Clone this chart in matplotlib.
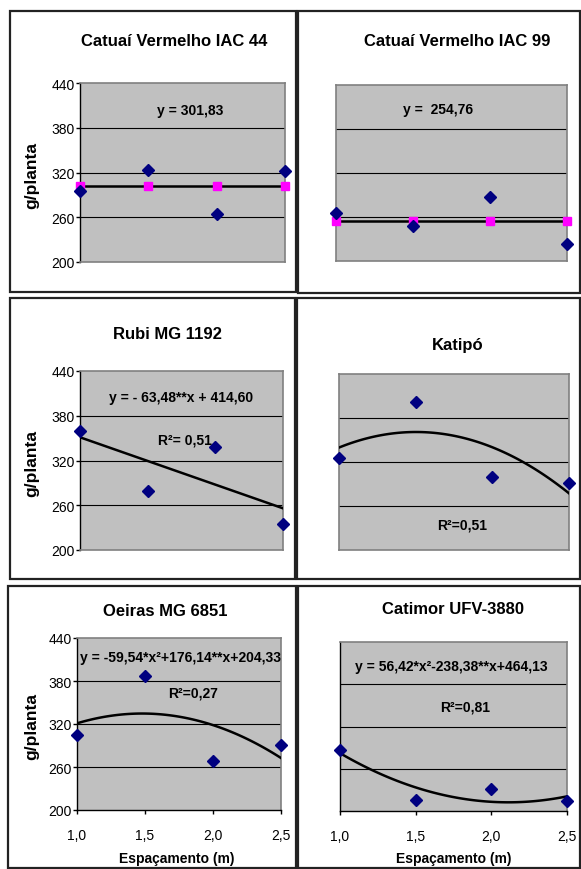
import numpy as np
import matplotlib
matplotlib.use('Agg')
import matplotlib.pyplot as plt
from matplotlib.patches import Rectangle

plt.rcParams['font.family'] = ['Liberation Sans', 'DejaVu Sans']

# spacing (m) and yield per plant for each cultivar
espacamento = [1.0, 1.5, 2.0, 2.5]
x_labels = ['1,0', '1,5', '2,0', '2,5']
y_ticks = [200, 260, 320, 380, 440]

titles = ['Catuaí Vermelho IAC 44', 'Catuaí Vermelho IAC 99', 'Rubi MG 1192',
          'Katipó', 'Oeiras MG 6851', 'Catimor UFV-3880']

y_iac44 = [295, 323, 265, 322]
y_iac99 = [265, 248, 287, 223]
y_rubi = [360, 279, 338, 235]
y_katipo = [326, 402, 299, 291]
y_oeiras = [305, 387, 268, 291]
y_catimor = [287, 216, 231, 214]

# regression coefficients (highest degree first); Katipó fitted from the points
coef_iac44 = [301.83]
coef_iac99 = [254.76]
coef_rubi = [-63.48, 414.60]
coef_katipo = None
coef_oeiras = [-59.54, 176.14, 204.33]
coef_catimor = [56.42, -238.38, 464.13]

eq_texts = ['y = 301,83', 'y =  254,76', 'y = - 63,48**x + 414,60', '',
            'y = -59,54*x²+176,14**x+204,33', 'y = 56,42*x²-238,38**x+464,13']
r2_texts = ['', '', 'R²= 0,51', 'R²=0,51', 'R²=0,27', 'R²=0,81']

W, H = 581, 870
fig = plt.figure(figsize=(W / 100, H / 100), dpi=100)


def fx(px):
    return px / W


def fy(py):
    return 1 - py / H


# panel frames (pixel boxes: x0, y0, x1, y1)
frames = [(10, 12, 296, 293), (298, 12, 580, 294),
          (10, 299, 295, 580), (297, 299, 580, 580),
          (8, 587, 296, 869), (298, 587, 580, 869)]
# plot areas
areas = [(80, 84, 285, 263), (336, 86, 567, 262),
         (80, 372, 283, 551), (339, 375, 569, 551),
         (77, 639, 281, 811), (340, 643, 567, 812)]
title_pos = [(174, 42), (457, 42), (167, 335), (458, 346), (165, 611), (453, 610)]
eq_pos = [(190, 111), (438, 110), (181, 398), None, (180, 658), (451, 667)]
r2_pos = [None, None, (185, 441), (462, 526), (193, 694), (465, 708)]

series = [y_iac44, y_iac99, y_rubi, y_katipo, y_oeiras, y_catimor]
coefs = [coef_iac44, coef_iac99, coef_rubi, coef_katipo, coef_oeiras, coef_catimor]

for (x0, y0, x1, y1) in frames:
    fig.patches.append(Rectangle((fx(x0), fy(y1)), fx(x1 - x0), (y1 - y0) / H,
                                 transform=fig.transFigure, fill=False,
                                 edgecolor='#222222', linewidth=1.6))

for i in range(6):
    x0, y0, x1, y1 = areas[i]
    ax = fig.add_axes([fx(x0), fy(y1), fx(x1 - x0), (y1 - y0) / H])
    ax.set_facecolor('#c0c0c0')
    ax.set_xlim(1.0, 2.5)
    ax.set_ylim(200, 440)
    for s in ax.spines.values():
        s.set_color('#808080')
        s.set_linewidth(1.2)

    for g in y_ticks[1:-1]:
        ax.axhline(g, color='black', linewidth=0.8, zorder=1)

    ys = series[i]
    c = coefs[i]
    if c is None:
        c = np.polyfit(espacamento, ys, 2)
    xs = np.linspace(espacamento[0], espacamento[-1], 120)
    ax.plot(xs, np.polyval(c, xs), color='black', linewidth=1.8, zorder=3)

    if len(c) == 1:
        ax.plot(espacamento, [c[0]] * len(espacamento), linestyle='none', marker='s',
                color='#ff00ff', markersize=6, zorder=4, clip_on=False)

    ax.plot(espacamento, ys, linestyle='none', marker='D', color='#000080',
            markersize=6, zorder=5, clip_on=False)

    left = i % 2 == 0
    bottom = i >= 4
    ax.set_yticks(y_ticks)
    ax.set_xticks(espacamento)
    if left:
        ax.spines['left'].set_color('black')
        ax.spines['left'].set_linewidth(1.0)
        ax.set_yticklabels([str(t) for t in y_ticks], fontsize=10)
        ax.tick_params(axis='y', length=3, width=1, pad=1)
        fig.text(fx(32), fy((y0 + y1) / 2 + 2), 'g/planta', rotation=90,
                 ha='center', va='center', fontsize=12.5, fontweight='bold')
    else:
        ax.tick_params(axis='y', length=0, labelleft=False)
    if bottom:
        ax.spines['bottom'].set_color('black')
        ax.spines['bottom'].set_linewidth(1.0)
        if not left:
            ax.spines['left'].set_color('black')
            ax.spines['left'].set_linewidth(1.0)
        ax.set_xticklabels(x_labels, fontsize=10)
        ax.tick_params(axis='x', length=3, width=1, pad=10)
    else:
        ax.tick_params(axis='x', length=0, labelbottom=False)

    tx, ty = title_pos[i]
    fig.text(fx(tx), fy(ty), titles[i], ha='center', va='center',
             fontsize=12, fontweight='bold')
    if eq_pos[i] is not None:
        fig.text(fx(eq_pos[i][0]), fy(eq_pos[i][1]), eq_texts[i], ha='center',
                 va='center', fontsize=10, fontweight='bold')
    if r2_pos[i] is not None:
        fig.text(fx(r2_pos[i][0]), fy(r2_pos[i][1]), r2_texts[i], ha='center',
                 va='center', fontsize=10, fontweight='bold')
    if bottom:
        fig.text(fx((x0 + x1) / 2 - 2 if left else (x0 + x1) / 2), fy(859),
                 'Espaçamento (m)', ha='center', va='center',
                 fontsize=10, fontweight='bold')

fig.savefig('out.png', dpi=100)
